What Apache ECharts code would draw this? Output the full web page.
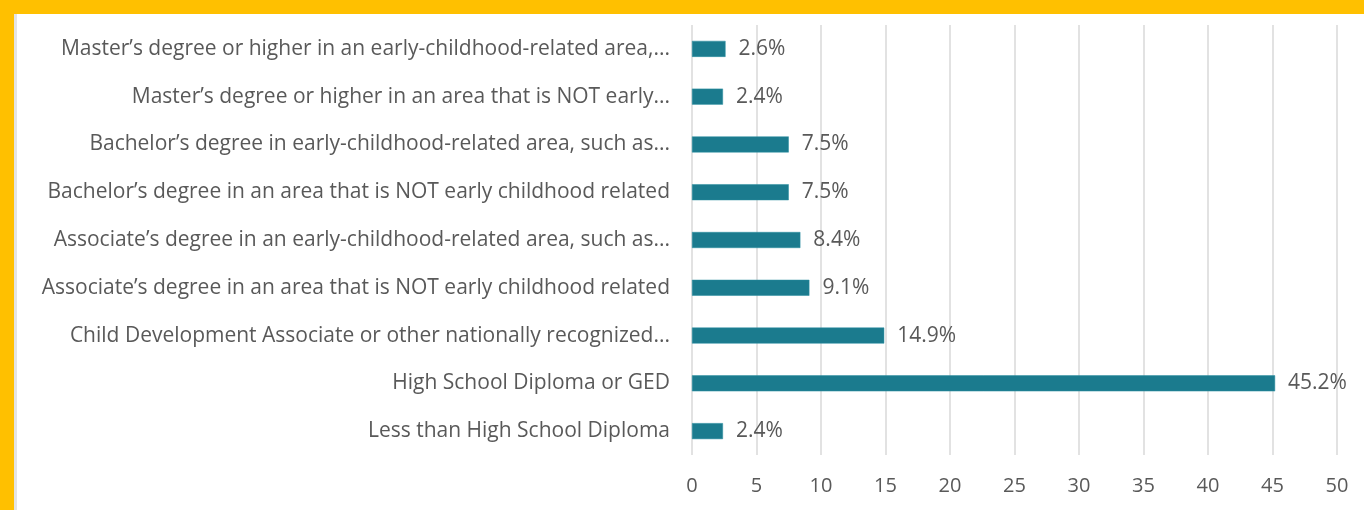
<!DOCTYPE html>
<html>
<head>
<meta charset="utf-8">
<script src="https://cdn.jsdelivr.net/npm/echarts@6/dist/echarts.min.js"></script>
<style>
html,body{margin:0;padding:0;background:#fff;}
#chart{width:1364px;height:510px;}
</style>
</head>
<body>
<div id="chart"></div>
<script>
const categories = [
  "Less than High School Diploma",
  "High School Diploma or GED",
  "Child Development Associate or other nationally recognized...",
  "Associate\u2019s degree in an area that is NOT early childhood related",
  "Associate\u2019s degree in an early-childhood-related area, such as...",
  "Bachelor\u2019s degree in an area that is NOT early childhood related",
  "Bachelor\u2019s degree in early-childhood-related area, such as...",
  "Master\u2019s degree or higher in an area that is NOT early...",
  "Master\u2019s degree or higher in an early-childhood-related area,..."
];
const values = [2.4, 45.2, 14.9, 9.1, 8.4, 7.5, 7.5, 2.4, 2.6];
const xTicks = [0, 5, 10, 15, 20, 25, 30, 35, 40, 45, 50];

const FONT = "Open Sans";
const chart = echarts.init(document.getElementById('chart'), null, {renderer: 'canvas'});
chart.setOption({
  animation: false,
  backgroundColor: '#ffffff',
  textStyle: {fontFamily: FONT},
  graphic: [
    {type: 'rect', left: 0, top: 0, shape: {width: 1364, height: 14}, style: {fill: '#FFC000'}, z: 10},
    {type: 'rect', left: 0, top: 0, shape: {width: 14, height: 510}, style: {fill: '#FFC000'}, z: 10},
    {type: 'rect', left: 14, top: 14, shape: {width: 3, height: 496}, style: {fill: '#e4e4e4'}, z: 10}
  ],
  grid: {left: 692, right: 27, top: 25, bottom: 55, containLabel: false},
  xAxis: {
    type: 'value',
    min: xTicks[0],
    max: xTicks[xTicks.length - 1],
    interval: 5,
    axisLine: {show: false},
    axisTick: {show: false},
    axisLabel: {color: '#595959', fontSize: 20, fontFamily: FONT, margin: 21},
    splitLine: {show: true, lineStyle: {color: '#d9d9d9', width: 1.5}}
  },
  yAxis: {
    type: 'category',
    data: categories,
    axisLine: {show: false},
    axisTick: {show: false},
    axisLabel: {color: '#595959', fontSize: 21, fontFamily: FONT, margin: 22}
  },
  series: [{
    type: 'bar',
    data: values,
    barWidth: 16,
    itemStyle: {color: '#1b7b8e', borderColor: '#2a8fa1', borderWidth: 0.5},
    label: {
      show: true,
      position: 'right',
      distance: 13,
      color: '#595959',
      fontSize: 21,
      fontFamily: FONT,
      formatter: p => p.value.toFixed(1) + '%'
    }
  }]
});
</script>
</body>
</html>
